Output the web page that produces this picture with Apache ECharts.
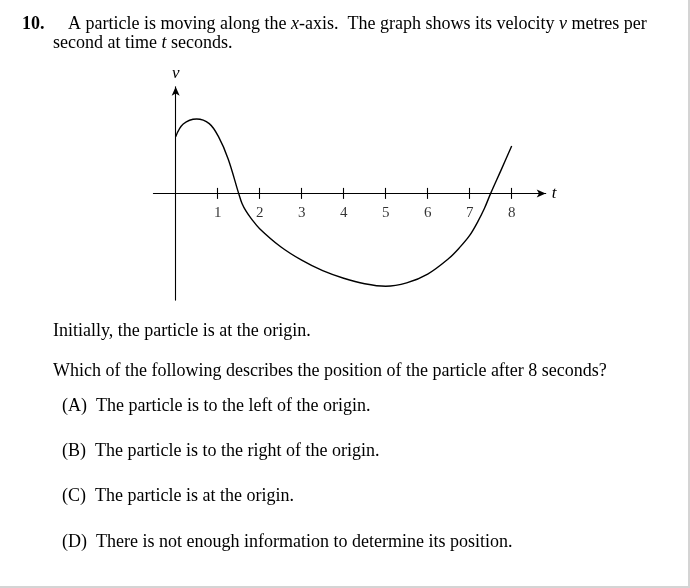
<!DOCTYPE html>
<html>
<head>
<meta charset="utf-8">
<script src="https://cdn.jsdelivr.net/npm/echarts@6/dist/echarts.min.js"></script>
<style>
html,body{margin:0;padding:0;background:#fff;}
#c{width:690px;height:588px;}
</style>
</head>
<body>
<div id="c"></div>
<script>
// Velocity curve (t in seconds, v in arbitrary units)
const tValues = [0, 0.18, 0.5, 0.8, 1.02, 1.25, 1.5, 1.58, 1.68, 1.8, 2.0, 2.5, 3.0, 3.5, 4.0, 4.5, 5.0, 5.5, 6.0, 6.5, 6.75, 7.0, 7.2, 7.35, 7.5, 7.75, 8.0];
const vValues = [1.35, 1.65, 1.77, 1.66, 1.35, 0.82, 0.0, -0.24, -0.43, -0.6, -0.84, -1.27, -1.59, -1.84, -2.02, -2.15, -2.21, -2.13, -1.92, -1.55, -1.3, -1.0, -0.66, -0.36, 0.0, 0.56, 1.13];
const tickValues = [1, 2, 3, 4, 5, 6, 7, 8];
const tickLabels = ['1', '2', '3', '4', '5', '6', '7', '8'];

const serif = '"Liberation Serif", "DejaVu Serif", serif';
const FS = 18;
const chart = echarts.init(document.getElementById('c'), null, {renderer: 'canvas'});

function para(x, y, rich) {
  return {
    type: 'text', x: x, y: y,
    style: {
      verticalAlign: 'middle', align: 'left',
      rich: {
        n: {fontFamily: serif, fontSize: FS, fill: '#000'},
        b: {fontFamily: serif, fontSize: FS, fill: '#000', fontWeight: 'bold'},
        i: {fontFamily: serif, fontSize: FS, fill: '#000', fontStyle: 'italic'}
      },
      text: rich
    }
  };
}

const option = {
  animation: false,
  backgroundColor: '#fff',
  grid: {left: 153.4, top: 86.7, width: 392.3, height: 213.4, containLabel: false},
  xAxis: [{
    type: 'value', min: -0.53, max: 8.81,
    name: 't', nameLocation: 'end', nameGap: 6,
    nameTextStyle: {fontFamily: serif, fontStyle: 'italic', fontSize: 17, color: '#000', verticalAlign: 'middle'},
    axisLine: {onZero: true, symbol: ['none', 'arrow'], symbolSize: [6, 9], lineStyle: {color: '#000', width: 1.1}},
    axisTick: {show: true, inside: false, length: 5.5, customValues: tickValues, lineStyle: {color: '#000', width: 1.1}},
    axisLabel: {show: false},
    splitLine: {show: false}
  }, {
    type: 'value', min: -0.53, max: 8.81, position: 'bottom',
    axisLine: {show: false, onZero: true, onZeroAxisIndex: 0},
    axisTick: {show: true, inside: true, length: 5.5, customValues: tickValues, lineStyle: {color: '#000', width: 1.1}},
    axisLabel: {show: false},
    splitLine: {show: false}
  }],
  yAxis: [{
    type: 'value', min: -2.54, max: 2.54,
    name: 'v', nameLocation: 'end', nameGap: 5,
    nameTextStyle: {fontFamily: serif, fontStyle: 'italic', fontSize: 17, color: '#000', align: 'center'},
    axisLine: {onZero: true, symbol: ['none', 'arrow'], symbolSize: [6, 9], lineStyle: {color: '#000', width: 1.1}},
    axisTick: {show: false}, axisLabel: {show: false}, splitLine: {show: false}
  }],
  series: [{
    type: 'line', xAxisIndex: 0, yAxisIndex: 0,
    data: tValues.map((t, i) => [t, vValues[i]]),
    smooth: 0.35, showSymbol: false, symbol: 'none',
    lineStyle: {color: '#000', width: 1.4}
  }, {
    // tick labels of the t axis, sitting just under the zero line
    type: 'scatter', xAxisIndex: 0, yAxisIndex: 0,
    data: tickValues.map((t) => [t, 0]),
    symbolSize: 0, silent: true,
    label: {show: true, position: 'bottom', distance: 12,
      formatter: (p) => tickLabels[p.dataIndex],
      fontFamily: serif, fontSize: 15, color: '#000'}
  }],
  graphic: [
    para(22, 24, '{b|10.}'),
    para(68, 24, '{n|A particle is moving along the }{i|x}{n|-axis.  The graph shows its velocity }{i|v}{n| metres per}'),
    para(53, 43, '{n|second at time }{i|t}{n| seconds.}'),
    para(53, 331, '{n|Initially, the particle is at the origin.}'),
    para(53, 371, '{n|Which of the following describes the position of the particle after 8 seconds?}'),
    para(62, 406, '{n|(A)  The particle is to the left of the origin.}'),
    para(62, 451, '{n|(B)  The particle is to the right of the origin.}'),
    para(62, 496, '{n|(C)  The particle is at the origin.}'),
    para(62, 542, '{n|(D)  There is not enough information to determine its position.}'),
    {type: 'rect', shape: {x: 688, y: 0, width: 2, height: 588}, style: {fill: '#d4d4d4'}},
    {type: 'rect', shape: {x: 0, y: 586, width: 690, height: 2}, style: {fill: '#d4d4d4'}}
  ]
};
chart.setOption(option);
</script>
</body>
</html>
